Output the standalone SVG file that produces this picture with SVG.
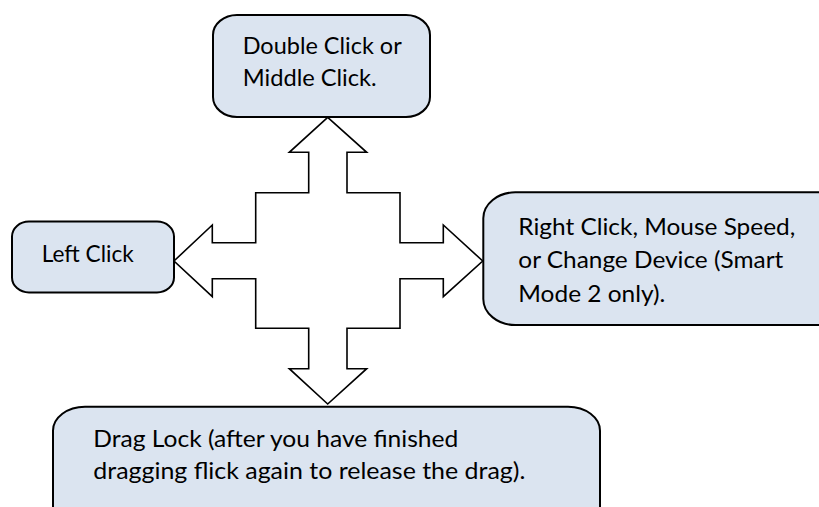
<svg xmlns="http://www.w3.org/2000/svg" width="819" height="507" viewBox="0 0 819 507">
  <style>
    .box { fill: #dbe4f0; stroke: #000; stroke-width: 2; }
    .arrow { fill: #fff; stroke: #000; stroke-width: 1.6; stroke-linejoin: miter; }
    .lbl { font-family: "Lato", "Liberation Sans", sans-serif; font-size: 22.5px; fill: #000; }
  </style>
  <rect width="819" height="507" fill="#fff"/>
  <g id="connectors">
    <polygon class="arrow" points="327.7,117.3 366.7,152.3 347,152.3 347,192.7 400,192.7 400,242.7 443.3,242.7 443.3,225 482.7,261 443.3,296.7 443.3,278.7 400,278.7 400,328.3 347,328.3 347,368.7 366.7,368.7 327.7,404 289.3,368.7 308.7,368.7 308.7,328.3 255.7,328.3 255.7,278.7 212.3,278.7 212.3,296.7 174,261 212.3,225 212.3,242.7 255.7,242.7 255.7,192.7 308.7,192.7 308.7,152.3 289.3,152.3"/>
  </g>
  <g id="node-top">
    <rect class="box" x="213" y="15" width="217" height="102" rx="24" ry="20"/>
    <text class="lbl" x="242.7" y="54" textLength="159" lengthAdjust="spacingAndGlyphs">Double Click or</text>
    <text class="lbl" x="242.7" y="86" textLength="134" lengthAdjust="spacingAndGlyphs">Middle Click.</text>
  </g>
  <g id="node-left">
    <rect class="box" x="12" y="221.5" width="162" height="71" rx="17" ry="15"/>
    <text class="lbl" x="41.7" y="261.7" textLength="92" lengthAdjust="spacingAndGlyphs">Left Click</text>
  </g>
  <g id="node-right">
    <rect class="box" x="483.3" y="192.3" width="370" height="132.7" rx="32" ry="26"/>
    <text class="lbl" x="518.3" y="235" textLength="277" lengthAdjust="spacingAndGlyphs">Right Click, Mouse Speed,</text>
    <text class="lbl" x="518.3" y="268" textLength="265" lengthAdjust="spacingAndGlyphs">or Change Device (Smart</text>
    <text class="lbl" x="518.3" y="301.5" textLength="147" lengthAdjust="spacingAndGlyphs">Mode 2 only).</text>
  </g>
  <g id="node-bottom">
    <rect class="box" x="53" y="406.7" width="547" height="130" rx="32" ry="24"/>
    <text class="lbl" x="93.3" y="446.7" textLength="365" lengthAdjust="spacingAndGlyphs">Drag Lock (after you have finished</text>
    <text class="lbl" x="93.3" y="479.3" textLength="432" lengthAdjust="spacingAndGlyphs">dragging flick again to release the drag).</text>
  </g>
</svg>
